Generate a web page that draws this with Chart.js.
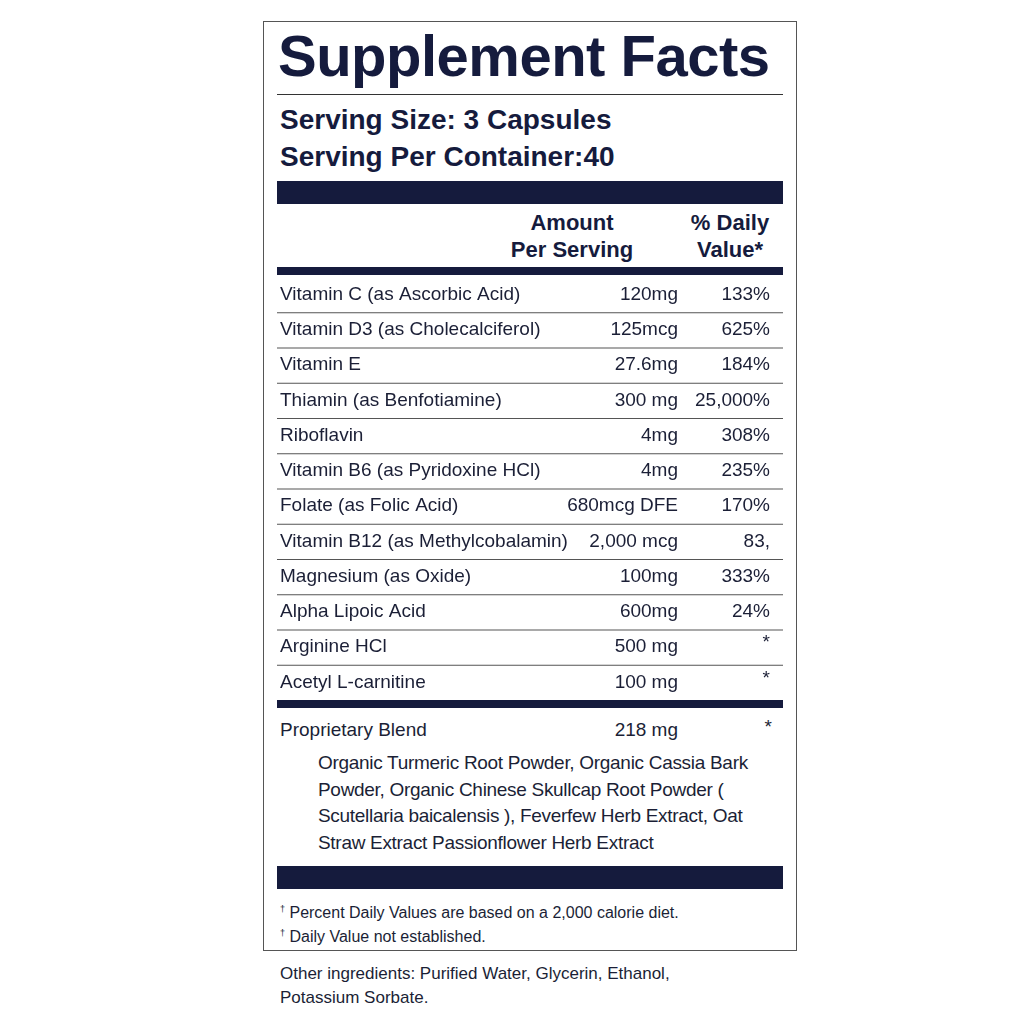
<!DOCTYPE html>
<html><head><meta charset="utf-8">
<script src="https://cdn.jsdelivr.net/npm/chart.js@4/dist/chart.umd.min.js"></script>
<style>
body{margin:0;width:1024px;height:1024px;background:#fff;font-family:"Liberation Sans",Arial,sans-serif;color:#1b1f36;position:relative;overflow:hidden}
.a{position:absolute;white-space:nowrap}
.bar{position:absolute;left:277px;width:506px;background:#151b3d}
.t{font-weight:bold;color:#151b3d}
</style></head><body>
<div class="a" style="left:263px;top:21px;width:532px;height:928px;border:1px solid #555"></div>
<div class="a t" style="left:278px;top:22px;font-size:58px;letter-spacing:-0.5px">Supplement Facts</div>
<div class="a" style="left:277px;top:94px;width:506px;height:1px;background:#333"></div>
<div class="a t" style="left:280px;top:101px;font-size:28px;line-height:37px">Serving Size: 3 Capsules<br>Serving Per Container:40</div>
<div class="bar" style="top:181px;height:23px"></div>
<div class="a t" style="left:492px;top:209px;width:160px;text-align:center;font-size:22px;line-height:27px">Amount<br>Per Serving</div>
<div class="a t" style="left:670px;top:209px;width:120px;text-align:center;font-size:22px;line-height:27px">% Daily<br>Value*</div>
<div class="bar" style="top:267px;height:8px"></div>
<div class="a" style="left:277px;top:277px;width:506px;height:423px"><canvas id="c"></canvas></div>
<div class="bar" style="top:700px;height:8px"></div>
<div class="a" style="left:280px;top:719px;font-size:19px">Proprietary Blend</div>
<div class="a" style="left:560px;top:719px;width:118px;text-align:right;font-size:19px">218 mg</div>
<div class="a" style="left:700px;top:716px;width:72px;text-align:right;font-size:19px">*</div>
<div class="a" style="left:318px;top:750px;font-size:19px;line-height:26.5px;letter-spacing:-0.3px">Organic Turmeric Root Powder, Organic Cassia Bark<br>Powder, Organic Chinese Skullcap Root Powder (<br>Scutellaria baicalensis ), Feverfew Herb Extract, Oat<br>Straw Extract Passionflower Herb Extract</div>
<div class="bar" style="top:866px;height:23px"></div>
<div class="a" style="left:280px;top:899px;font-size:16px;line-height:21px"><sup style="font-size:9px">†</sup> Percent Daily Values are based on a 2,000 calorie diet.<br><sup style="font-size:9px">†</sup> Daily Value not established.</div>
<div class="a" style="left:280px;top:962px;font-size:17px;line-height:24px">Other ingredients: Purified Water, Glycerin, Ethanol,<br>Potassium Sorbate.</div>
<script>
const names=["Vitamin C (as Ascorbic Acid)","Vitamin D3 (as Cholecalciferol)","Vitamin E","Thiamin (as Benfotiamine)","Riboflavin","Vitamin B6 (as Pyridoxine HCl)","Folate (as Folic Acid)","Vitamin B12 (as Methylcobalamin)","Magnesium (as Oxide)","Alpha Lipoic Acid","Arginine HCl","Acetyl L-carnitine"];
const amounts=["120mg","125mcg","27.6mg","300 mg","4mg","4mg","680mcg DFE","2,000 mcg","100mg","600mg","500 mg","100 mg"];
const dailyValues=["133%","625%","184%","25,000%","308%","235%","170%","83,","333%","24%","*","*"];
const rowPlugin={id:'rows',afterDraw(ch){
 const c=ch.ctx,y=ch.scales.y,w=ch.width;
 c.save();c.font='19px "Liberation Sans",Arial,sans-serif';c.fillStyle='#1b1f36';c.textBaseline='middle';
 names.forEach((n,i)=>{
  const py=y.getPixelForValue(i);
  c.textAlign='left';c.fillText(n,3,py);
  c.textAlign='right';c.fillText(amounts[i],401,py);
  c.fillText(dailyValues[i],493,dailyValues[i]==='*'?py-4:py);
  if(i<names.length-1){const ly=(py+y.getPixelForValue(i+1))/2;c.fillStyle='#555';c.fillRect(0,ly,w,1);c.fillStyle='#1b1f36';}
 });
 c.restore();}};
new Chart(document.getElementById('c'),{type:'bar',data:{labels:names,datasets:[{data:names.map(()=>0)}]},
 options:{indexAxis:'y',responsive:true,maintainAspectRatio:false,animation:false,layout:{padding:0},
 plugins:{legend:{display:false},tooltip:{enabled:false}},
 scales:{x:{display:false},y:{display:false}}},plugins:[rowPlugin]});
</script>
</body></html>
